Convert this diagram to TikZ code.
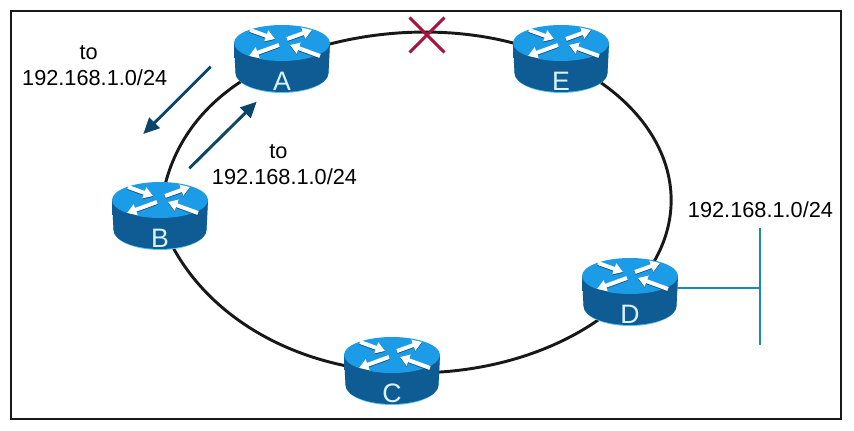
\documentclass[tikz,border=0pt]{standalone}
\usepackage{fontspec}
\setmainfont{Liberation Sans}
\usepackage{xcolor}
\usepackage{tikz}
\usetikzlibrary{arrows.meta, positioning, shapes.misc, backgrounds}

\definecolor{routertop}{RGB}{28,155,230}
\definecolor{routermid}{RGB}{30,138,210}
\definecolor{routerdark}{RGB}{15,92,148}
\definecolor{routerrim}{RGB}{90,200,240}
\definecolor{routershadow}{RGB}{12,70,115}
\definecolor{flowblue}{RGB}{10,70,105}
\definecolor{lanblue}{RGB}{25,140,180}
\definecolor{failred}{RGB}{168,18,60}
\definecolor{ringblack}{RGB}{24,24,24}

\tikzset{
    routerpoint/.style={inner sep=0pt, minimum size=0pt},
    routerletter/.style={inner sep=0pt, text=cyan!15, font=\fontsize{20}{20}\selectfont},
    routerside/.style={left color=routerdark, middle color=routermid, right color=routerdark, draw=none},
    routerflow/.style={white, line width=3pt, -{Triangle[length=7pt, width=8.5pt]}},
    routerflowdark/.style={routershadow, line width=3pt, -{Triangle[length=7pt, width=8.5pt]}},
    ringline/.style={ringblack, line width=2.2pt},
    lanline/.style={lanblue, line width=1.6pt},
    flowline/.style={flowblue, line width=2.2pt, -{Triangle[length=12pt, width=11pt]}},
    addrlabel/.style={inner sep=0pt, align=center, text=black, font=\fontsize{16.3}{19.5}\selectfont},
    failmark/.style={cross out, draw=failred, line width=2.2pt, inner sep=0pt, minimum size=24pt},
}

\newcommand{\router}[3]{%
    \node[routerpoint] (#1) at (#2) {};
    \begin{scope}[shift={(#1)}]
        \fill[routerrim] (-48,17) -- (-46.5,-13) arc[start angle=180, end angle=360, x radius=46.5, y radius=20] -- (48,17) -- cycle;
        \shade[routerside] (-48,17) -- (-46.5,-13) arc[start angle=180, end angle=360, x radius=46.5, y radius=19] -- (48,17) -- cycle;
        \fill[routertop] (0,17) ellipse[x radius=48, y radius=18];
        % Arrows on the lid
        \draw[routerflowdark] (-32,29.2) -- (-7,20.2);
        \draw[routerflowdark] (5,20.2) -- (30,29.2);
        \draw[routerflowdark] (-3,14.2) -- (-33,3.2);
        \draw[routerflowdark] (38,3.2) -- (8,14.2);
        \draw[routerflow] (-32,30) -- (-7,21);
        \draw[routerflow] (5,21) -- (30,30);
        \draw[routerflow] (-3,15) -- (-33,4);
        \draw[routerflow] (38,4) -- (8,15);
        \node[routerletter] (#1letter) at (0,-21) {#3};
    \end{scope}
}

\begin{document}
\begin{tikzpicture}[x=0.75pt, y=0.75pt]
    \useasboundingbox (0,0) rectangle (854,430);

    % Routers
    \router{A}{282,370}{A}
    \router{E}{561,370}{E}
    \router{D}{630,137}{D}
    \router{C}{392,58}{C}
    \router{B}{160,213}{B}

    % Frame, ring and LAN go under the routers
    \begin{scope}[on background layer]
        \node[draw=ringblack, line width=1.6pt, minimum width=622pt, minimum height=306pt, inner sep=0pt] (frame) at (426,215) {};
        \draw[ringline] (A) to[out=22.7, in=155.3, looseness=0.85] (E);
        \draw[ringline] (E) to[out=-24.7, in=46, out looseness=1.31, in looseness=1.14] (D);
        \draw[ringline] (D) to[out=-134, in=-3.8, out looseness=0.76, in looseness=0.97] (C);
        \draw[ringline] (C) to[out=176.2, in=-72, out looseness=1.12, in looseness=0.76] (B);
        \draw[ringline] (B) to[out=86, in=202.7, out looseness=0.83, in looseness=1.13] (A);

        \coordinate (lantop) at (760,202);
        \coordinate (lantap) at (760,142);
        \coordinate (lanbottom) at (760,85);
        \draw[lanline] (lantop) -- (lanbottom);
        \draw[lanline] (D |- lantap) -- (lantap);
    \end{scope}

    % Link failure
    \node[failmark] (fail) at (427,395) {};

    % Update flows
    \coordinate (flowAstart) at (210.7,363.3);
    \coordinate (flowAend) at (143.3,296);
    \coordinate (flowBstart) at (189.3,261.7);
    \coordinate (flowBend) at (256.7,328.3);
    \draw[flowline] (flowAstart) -- (flowAend);
    \draw[flowline] (flowBstart) -- (flowBend);

    % Labels
    \node[addrlabel] (toleft) at (94.7,364) {to\hspace*{9pt}\\192.168.1.0/24};
    \node[addrlabel] (toright) at (284.5,265) {to\hspace*{9pt}\\192.168.1.0/24};
    \node[addrlabel] (lanlabel) at (760.5,220) {192.168.1.0/24};
\end{tikzpicture}
\end{document}
